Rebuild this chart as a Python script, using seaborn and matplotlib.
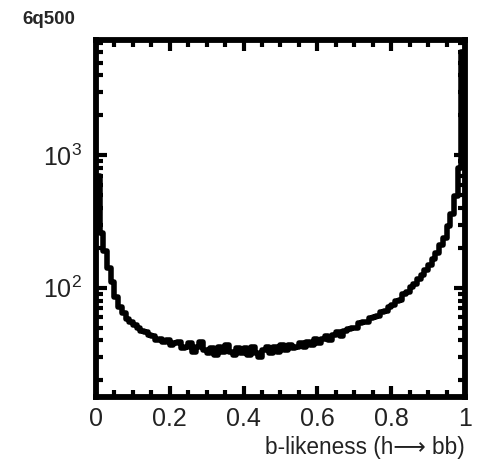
import numpy as np
import pandas as pd
import matplotlib
matplotlib.use("Agg")
import matplotlib.pyplot as plt
import seaborn as sns
from matplotlib.ticker import LogLocator, FixedLocator, MultipleLocator, NullFormatter

sns.set_theme(style="white")
plt.rcParams['font.family'] = ['Liberation Sans', 'DejaVu Sans']
plt.rcParams['mathtext.default'] = 'regular'

# ---- data (100 bins on [0,1]) ----
n_bins = 100
bin_centers = (np.arange(n_bins) + 0.5) / n_bins
counts = [
    700, 260, 190, 140, 110, 85, 72, 64, 58, 55,
    52, 50, 47, 46, 44, 43, 40, 41, 39, 40,
    37, 38, 39, 35, 36, 38, 33, 36, 39, 34,
    32, 35, 31, 36, 33, 37, 33, 31, 35, 32,
    35, 31, 36, 32, 30, 34, 36, 32, 36, 33,
    37, 34, 37, 35, 36, 38, 36, 39, 37, 41,
    38, 41, 43, 40, 44, 46, 43, 47, 49, 50,
    50, 54, 55, 55, 59, 60, 61, 66, 67, 72,
    74, 79, 81, 89, 93, 101, 106, 116, 124, 136,
    148, 166, 184, 212, 238, 292, 358, 490, 800, 6000,
]
x_ticks = [0, 0.2, 0.4, 0.6, 0.8, 1.0]
x_tick_labels = ["0", "0.2", "0.4", "0.6", "0.8", "1"]
title_text = "6q500"
x_label = "b-likeness (h\u27f6 bb)"

df = pd.DataFrame({"b": bin_centers, "n": counts})

fig = plt.figure(figsize=(4.78, 4.67), dpi=100)
ax = fig.add_axes([0.2008, 0.15, 0.772, 0.7643])
ax.set_yscale('log')

sns.histplot(data=df, x="b", weights="n", bins=n_bins, binrange=(0, 1),
             element='step', fill=False, color='black', linewidth=4, ax=ax)

ax.set_xlim(0, 1)
ax.set_ylim(15, 7400)

ax.xaxis.set_major_locator(FixedLocator(x_ticks))
ax.set_xticklabels(x_tick_labels)
ax.xaxis.set_minor_locator(MultipleLocator(0.05))
ax.yaxis.set_major_locator(LogLocator(base=10, numticks=10))
ax.yaxis.set_minor_locator(LogLocator(base=10, subs=np.arange(2, 10), numticks=20))
ax.yaxis.set_minor_formatter(NullFormatter())

for s in ax.spines.values():
    s.set_visible(True)
    s.set_linewidth(4.2)
    s.set_color('black')

ax.tick_params(which='both', direction='in', top=True, right=True,
               bottom=True, left=True, color='black')
ax.tick_params(which='major', length=8, width=3, labelsize=18, pad=7,
               labelcolor='#222222')
ax.tick_params(which='minor', length=5, width=3)
ax.tick_params(axis='y', which='major', pad=10)

ax.set_ylabel("")
ax.set_xlabel(x_label, fontsize=16.3, loc='right', labelpad=4, color='#222222')
ax.grid(False)

fig.text(22 / 478, 1 - 11 / 467, title_text, fontsize=13.5, fontweight='bold',
         ha='left', va='top')

fig.savefig("out.png", dpi=100)
